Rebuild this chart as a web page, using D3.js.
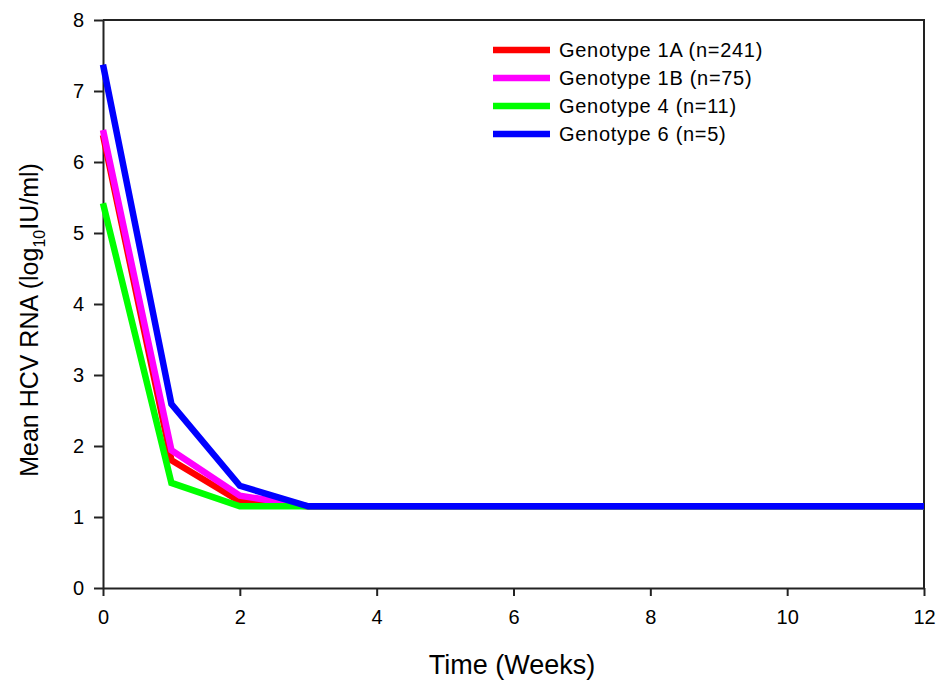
<!DOCTYPE html>
<html>
<head>
<meta charset="utf-8">
<script src="https://cdn.jsdelivr.net/npm/d3@7"></script>
<style>
  body { margin: 0; background: #fff; }
  text { font-family: "Liberation Sans", Arial, sans-serif; fill: #000; }
</style>
</head>
<body>
<script>
var w = 936, h = 681;

// data
var weeks = [0, 1, 2, 3, 4, 5, 6, 7, 8, 9, 10, 11, 12];
var g1a = [6.38, 1.8, 1.22, 1.15, 1.15, 1.15, 1.15, 1.15, 1.15, 1.15, 1.15, 1.15, 1.15];
var g1b = [6.45, 1.94, 1.3, 1.15, 1.15, 1.15, 1.15, 1.15, 1.15, 1.15, 1.15, 1.15, 1.15];
var g4  = [5.42, 1.48, 1.15, 1.15, 1.15, 1.15, 1.15, 1.15, 1.15, 1.15, 1.15, 1.15, 1.15];
var g6  = [7.37, 2.59, 1.44, 1.15, 1.15, 1.15, 1.15, 1.15, 1.15, 1.15, 1.15, 1.15, 1.15];
var seriesNames = ["Genotype 1A (n=241)", "Genotype 1B (n=75)", "Genotype 4 (n=11)", "Genotype 6 (n=5)"];
var seriesColors = ["#ff0000", "#ff00ff", "#00ff00", "#0000ff"];
var xTicks = [0, 2, 4, 6, 8, 10, 12];
var yTicks = [0, 1, 2, 3, 4, 5, 6, 7, 8];

var series = [g1a, g1b, g4, g6];

var m = {left: 103, right: 924, top: 20, bottom: 588};

var svg = d3.select("body").append("svg")
  .attr("width", w)
  .attr("height", h);

var x = d3.scaleLinear().domain([0, 12]).range([m.left, m.right]);
var y = d3.scaleLinear().domain([0, 8]).range([m.bottom, m.top]);

// frame (top + right)
svg.append("path")
  .attr("d", "M" + m.left + "," + m.top + "H" + m.right + "V" + m.bottom)
  .attr("fill", "none")
  .attr("stroke", "#222")
  .attr("stroke-width", 2);

var xAxis = svg.append("g")
  .attr("transform", "translate(0," + m.bottom + ")")
  .call(d3.axisBottom(x).tickValues(xTicks).tickSize(8).tickPadding(14).tickSizeOuter(0));
var yAxis = svg.append("g")
  .attr("transform", "translate(" + m.left + ",0)")
  .call(d3.axisLeft(y).tickValues(yTicks).tickSize(9).tickPadding(10).tickSizeOuter(0));

[xAxis, yAxis].forEach(function(a){
  a.select(".domain").attr("stroke", "#222").attr("stroke-width", 2);
  a.selectAll(".tick line").attr("stroke", "#222").attr("stroke-width", 2);
  a.selectAll(".tick text")
    .attr("font-family", "'Liberation Sans', Arial, sans-serif")
    .attr("font-size", 20)
    .attr("fill", "#000");
});

// lines
var line = d3.line()
  .x(function(d, i){ return x(weeks[i]); })
  .y(function(d){ return y(d); });

svg.append("g").selectAll("path")
  .data(series)
  .enter().append("path")
  .attr("d", line)
  .attr("fill", "none")
  .attr("stroke", function(d, i){ return seriesColors[i]; })
  .attr("stroke-width", 6.5)
  .attr("stroke-linejoin", "miter");

// legend
var leg = svg.append("g");
seriesNames.forEach(function(n, i){
  var yy = 50 + i * 28;
  leg.append("line")
    .attr("x1", 493).attr("x2", 550)
    .attr("y1", yy).attr("y2", yy)
    .attr("stroke", seriesColors[i])
    .attr("stroke-width", 6.5);
  leg.append("text")
    .attr("x", 559).attr("y", yy)
    .attr("dy", "0.36em")
    .attr("font-size", 20)
    .attr("letter-spacing", 0.7)
    .text(n);
});

// axis titles
svg.append("text")
  .attr("x", 512)
  .attr("y", 674)
  .attr("text-anchor", "middle")
  .attr("font-size", 27)
  .text("Time (Weeks)");

var yl = svg.append("text")
  .attr("transform", "translate(38," + ((m.top + m.bottom) / 2 + 16) + ") rotate(-90)")
  .attr("text-anchor", "middle")
  .attr("font-size", 25);
yl.append("tspan").text("Mean HCV RNA (log");
yl.append("tspan").attr("font-size", 16).attr("dy", 7).text("10");
yl.append("tspan").attr("dy", -7).text("IU/ml)");
</script>
</body>
</html>
